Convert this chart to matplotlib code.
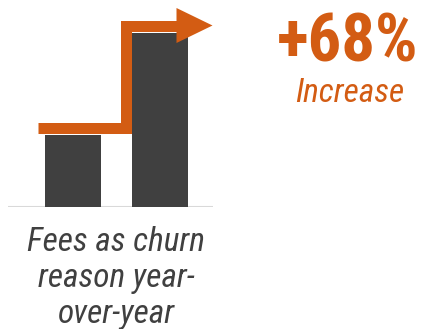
import matplotlib.pyplot as plt
from matplotlib.patches import Polygon

# bar heights (px-scale units)
labels = ["Last year", "This year"]
values = [72, 174]
change_txt = "+68%"
change_sub = "Increase"
caption = ["Fees as churn", "reason year-", "over-year"]

W, H = 421, 329
orange = "#d35c13"
dark = "#404040"
fnt = ["Roboto Condensed", "Liberation Sans", "DejaVu Sans"]

fig = plt.figure(figsize=(W / 100, H / 100), dpi=100)

# axes spanning x 8..213 px, y baseline 207 px up to top
base_px = 207
ax = fig.add_axes([8 / W, (H - base_px) / H, 205 / W, base_px / H])
unit = 86.5  # px per x unit
ax.set_xlim(-65 / unit, 140 / unit)
ax.set_ylim(0, base_px)
ax.axis("off")

bw = 56 / unit
xs = list(range(len(values)))
ax.bar(xs, values, width=bw, color=dark, zorder=2)
ax.axhline(0, color="#d9d9d9", lw=2.2, zorder=1)

# step arrow following bar tops
lw_px = 11
off = 7.5
x0 = xs[0] - bw / 2 - 7 / unit
xv = xs[1] - bw / 2 - 5.5 / unit
y1 = values[0] + off
y2 = values[1] + off
xh = xs[1] + bw / 2 - 11 / unit
ax.plot([x0, xv, xv, xh], [y1, y1, y2, y2], color=orange, lw=lw_px * 0.72,
        solid_capstyle="butt", solid_joinstyle="miter", zorder=3)
tip = xh + 36 / unit
head = Polygon([[xh, y2 - 17.5], [xh, y2 + 17.5], [tip, y2]], closed=True,
               color=orange, lw=0, zorder=3)
ax.add_patch(head)

# annotation text
fig.text(348 / W, 1 - 62 / H, change_txt, ha="center", va="baseline",
         fontsize=48, fontweight="bold", color=orange, family=fnt)
fig.text(350 / W, 1 - 102 / H, change_sub, ha="center", va="baseline",
         fontsize=24, style="italic", color=orange, family=fnt)

for i, line in enumerate(caption):
    fig.text(116 / W, 1 - (251 + i * 36) / H, line, ha="center", va="baseline",
             fontsize=24, style="italic", color=dark, family=fnt)

fig.savefig("out.png", dpi=100)
